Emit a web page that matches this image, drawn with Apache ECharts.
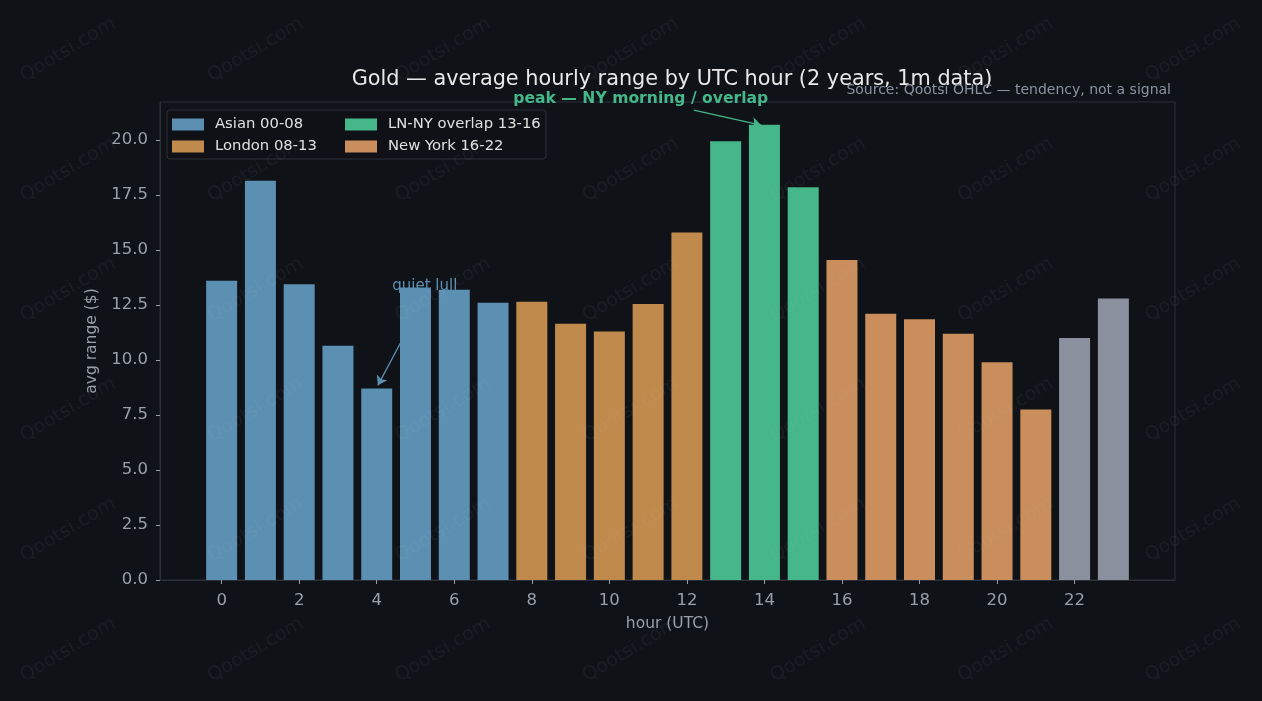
<!DOCTYPE html>
<html>
<head>
<meta charset="utf-8">
<script src="https://cdn.jsdelivr.net/npm/echarts@6/dist/echarts.min.js"></script>
<style>
  html, body { margin: 0; padding: 0; background: #0f1217; }
  #chart { width: 1262px; height: 701px; }
</style>
</head>
<body>
<div id="chart"></div>
<script>
// average hourly range ($) per UTC hour
const hours = [0, 1, 2, 3, 4, 5, 6, 7, 8, 9, 10, 11, 12, 13, 14, 15, 16, 17, 18, 19, 20, 21, 22, 23];
const avgRange = [13.6, 18.15, 13.45, 10.65, 8.7, 13.3, 13.2, 12.6, 12.65, 11.65, 11.3, 12.55,
  15.8, 19.95, 20.7, 17.85, 14.55, 12.1, 11.85, 11.2, 9.9, 7.75, 11.0, 12.8];
const xTicks = [0, 2, 4, 6, 8, 10, 12, 14, 16, 18, 20, 22];
const yTicks = [0, 2.5, 5, 7.5, 10, 12.5, 15, 17.5, 20];

const sessions = [
  { name: "Asian 00-08", from: 0, to: 8, color: "#5b90b2" },
  { name: "London 08-13", from: 8, to: 13, color: "#c08a4c" },
  { name: "LN-NY overlap 13-16", from: 13, to: 16, color: "#45b78a" },
  { name: "New York 16-22", from: 16, to: 22, color: "#c98e5c" },
  { name: "Other", from: 22, to: 24, color: "#8a909e" },
];

const chart = echarts.init(document.getElementById("chart"));
const font = "DejaVu Sans";
const axisColor = "#2c3038";
const labelColor = "#9aa0aa";

const series = sessions.map((s) => ({
  name: s.name,
  type: "bar",
  barWidth: 31,
  barGap: "-100%",
  itemStyle: { color: s.color },
  data: hours.filter((h) => h >= s.from && h < s.to).map((h) => [h, avgRange[h]]),
}));

// annotations
series[0].markLine = {
  silent: true,
  symbol: ["none", "arrow"],
  symbolSize: 9,
  label: { show: false },
  lineStyle: { color: "#5b90b2", width: 1.3, type: "solid" },
  data: [[{ coord: [4.65, 10.9] }, { coord: [4.03, 8.85] }]],
};
series[0].markPoint = {
  silent: true,
  symbol: "circle",
  symbolSize: 0,
  label: { show: true, position: [0, 0], align: "left", verticalAlign: "middle",
    formatter: "quiet lull", color: "#5b90b2", fontSize: 15, fontFamily: font },
  data: [{ coord: [4.4, 13.36] }],
};
series[2].markLine = {
  silent: true,
  symbol: ["none", "arrow"],
  symbolSize: 9,
  label: { show: false },
  lineStyle: { color: "#45b78a", width: 1.3, type: "solid" },
  data: [[{ coord: [12.18, 21.36] }, { coord: [13.91, 20.68] }]],
};
series[2].markPoint = {
  silent: true,
  symbol: "circle",
  symbolSize: 0,
  label: { show: true, position: [0, -6], align: "center", verticalAlign: "middle",
    formatter: "peak \u2014 NY morning / overlap", color: "#45b78a", fontSize: 15.6,
    fontWeight: "bold", fontFamily: font },
  data: [{ coord: [10.81, 21.6] }],
};

// watermark grid
const marks = [];
for (let r = 0; r < 6; r++) {
  for (let c = 0; c < 7; c++) {
    marks.push({
      type: "text", silent: true, z: 100,
      x: 68 + c * 187.5, y: 50 + r * 120, rotation: Math.PI * 31 / 180,
      style: { text: "Qootsi.com", font: "19px DejaVu Sans", fill: "rgba(200,205,215,0.06)",
        align: "center", verticalAlign: "middle" },
    });
  }
}
marks.push({
  type: "rect", silent: true, z: 5, shape: { x: 167, y: 110, width: 379, height: 49, r: 3 },
  style: { fill: "rgba(15,18,23,0.8)", stroke: "#2c3038", lineWidth: 1 },
});

const legendBase = {
  orient: "vertical", top: 117, padding: 0, itemWidth: 32, itemHeight: 12, itemGap: 7, z: 10,
  icon: "rect", selectedMode: false,
  textStyle: { color: "#e0e0e0", fontSize: 14.8, fontFamily: font, padding: [0, 0, 0, 6] },
};

chart.setOption({
  backgroundColor: "#0f1217",
  animation: false,
  textStyle: { fontFamily: font },
  title: [
    { text: "Gold \u2014 average hourly range by UTC hour (2 years, 1m data)", left: 667, top: 64,
      textAlign: "center",
      textStyle: { color: "#e8e8e8", fontSize: 20.8, fontWeight: "normal", fontFamily: font } },
    { text: "Source: Qootsi OHLC \u2014 tendency, not a signal", right: 86, top: 78,
      textStyle: { color: "#8a93a0", fontSize: 14, fontWeight: "normal", fontFamily: font } },
  ],
  legend: [
    Object.assign({ left: 172, data: ["Asian 00-08", "London 08-13"] }, legendBase),
    Object.assign({ left: 345, data: ["LN-NY overlap 13-16", "New York 16-22"] }, legendBase),
  ],
  grid: { left: 160, right: 87, top: 102, bottom: 121, show: true, borderColor: axisColor, borderWidth: 1 },
  xAxis: {
    type: "value", min: -1.59, max: 24.59,
    name: "hour (UTC)", nameLocation: "middle", nameGap: 36,
    nameTextStyle: { color: labelColor, fontSize: 15.5 },
    axisLine: { show: true, lineStyle: { color: axisColor } },
    axisTick: { show: true, customValues: xTicks, length: 4, lineStyle: { color: labelColor } },
    axisLabel: { customValues: xTicks, color: labelColor, fontSize: 16.5, margin: 12 },
    splitLine: { show: false },
  },
  yAxis: {
    type: "value", min: 0, max: 21.73,
    name: "avg range ($)", nameLocation: "middle", nameGap: 58,
    nameTextStyle: { color: labelColor, fontSize: 15.5 },
    axisLine: { show: true, onZero: false, lineStyle: { color: axisColor } },
    axisTick: { show: true, customValues: yTicks, length: 4, lineStyle: { color: labelColor } },
    axisLabel: { customValues: yTicks, color: labelColor, fontSize: 16.5, margin: 12,
      formatter: (v) => v.toFixed(1) },
    splitLine: { show: false },
  },
  graphic: marks,
  series: series,
});
</script>
</body>
</html>
